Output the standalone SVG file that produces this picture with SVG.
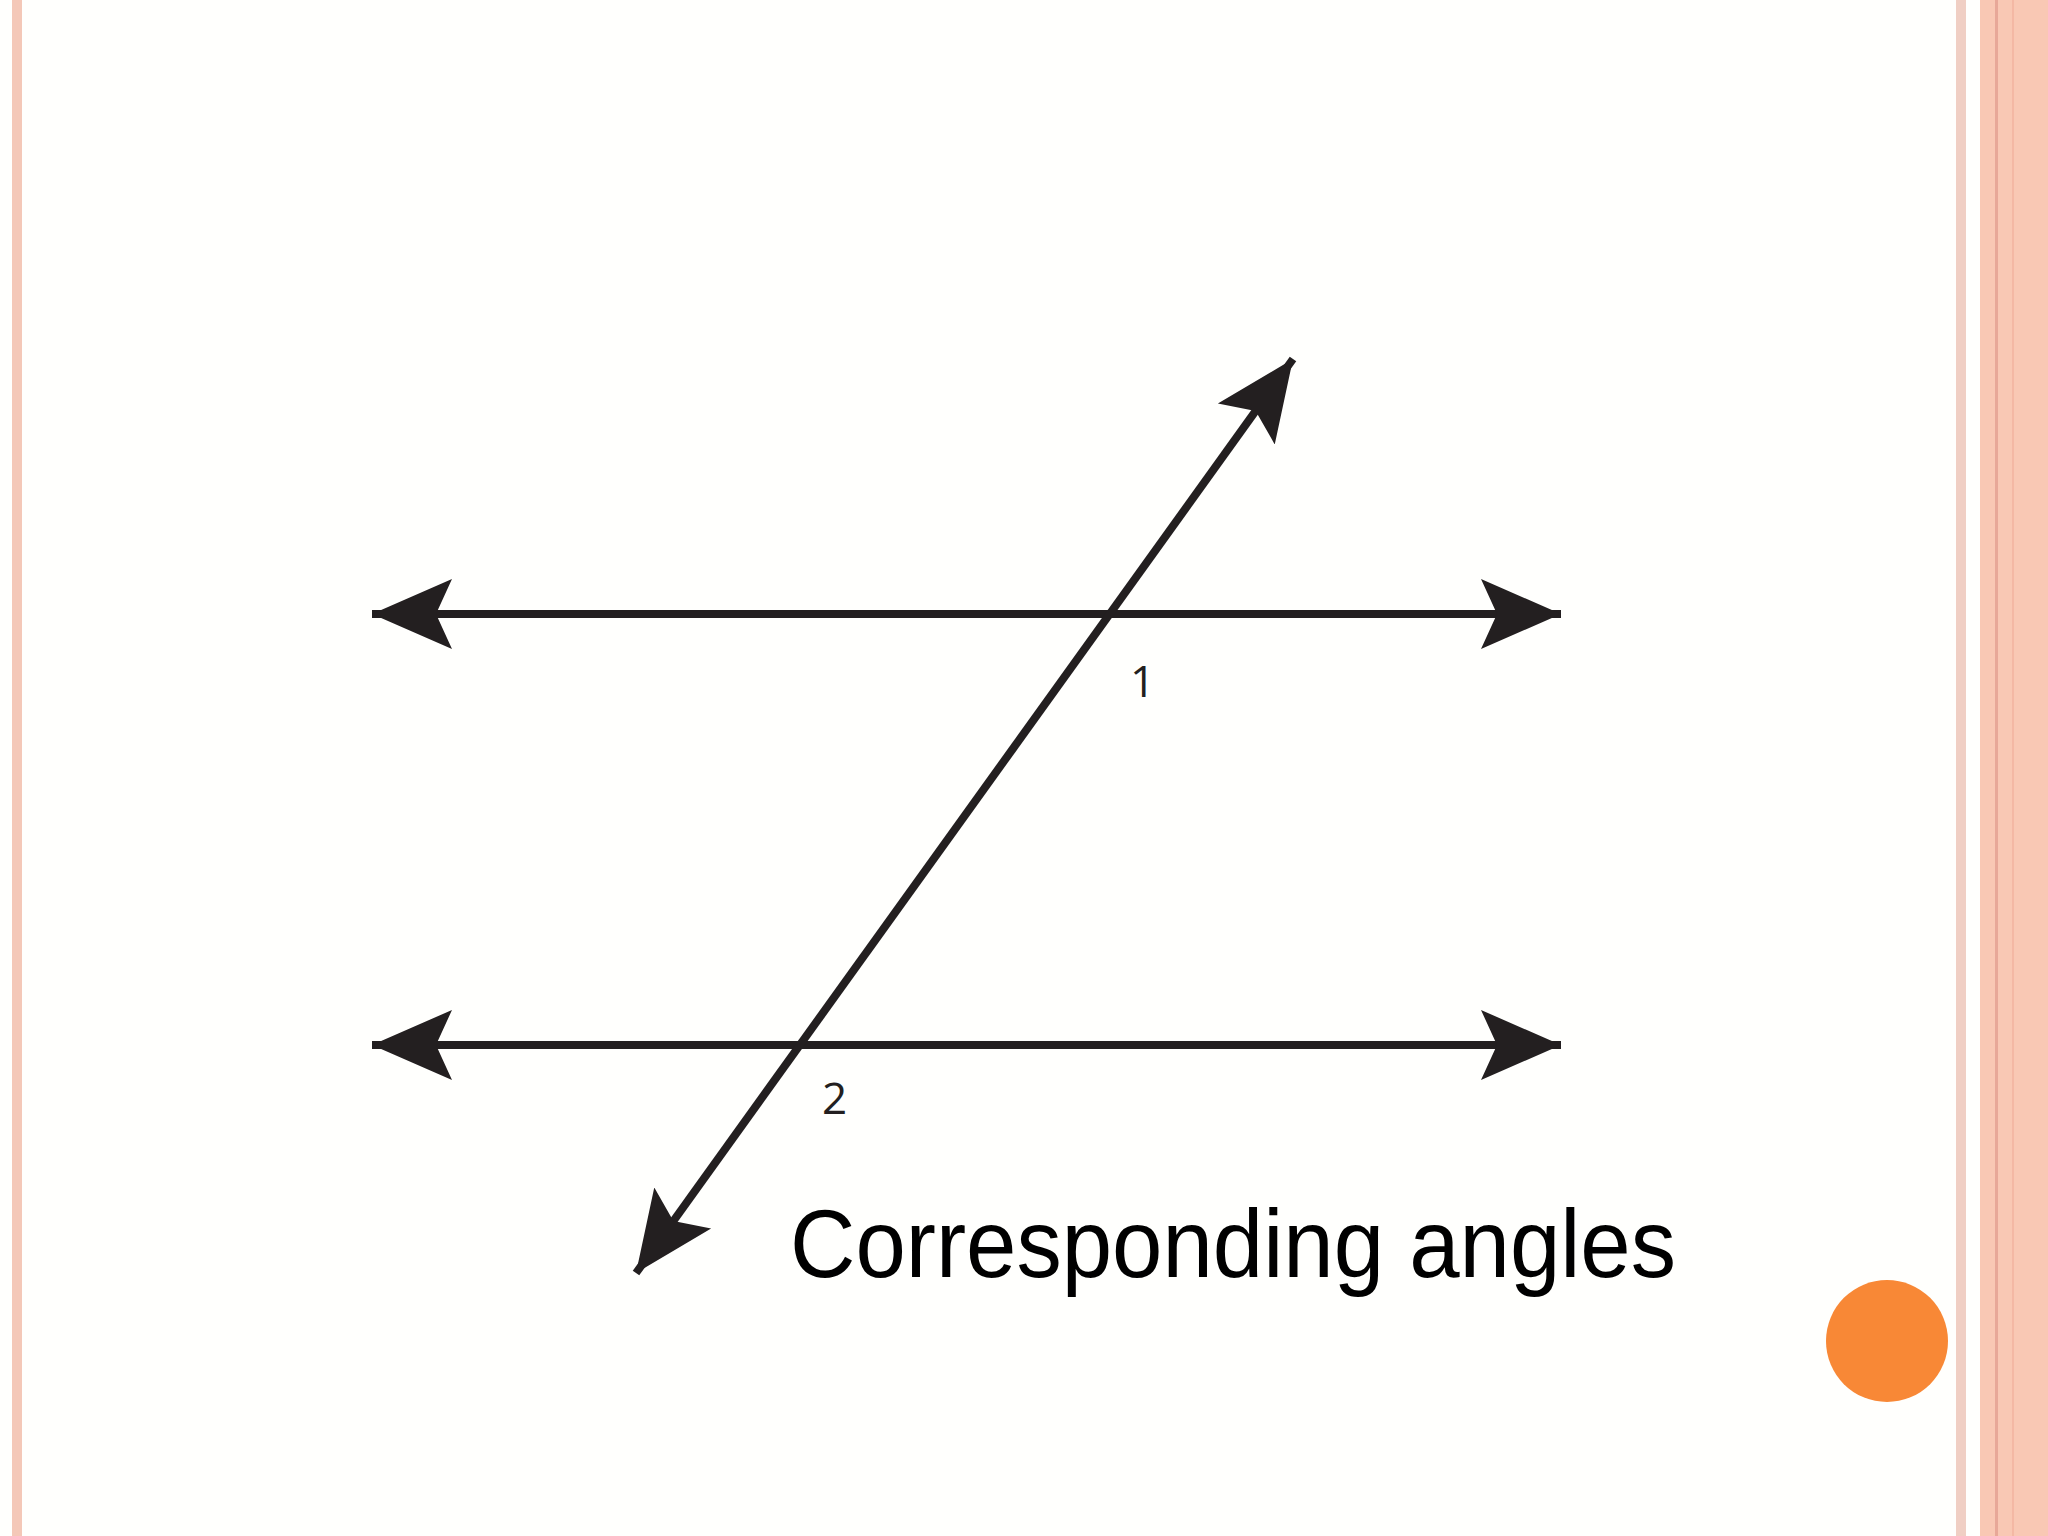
<svg xmlns="http://www.w3.org/2000/svg" width="2048" height="1536" viewBox="0 0 2048 1536">
<defs>
<marker id="ah" markerUnits="userSpaceOnUse" markerWidth="90" markerHeight="80" refX="80" refY="35" orient="auto-start-reverse" viewBox="0 0 90 70">
<path d="M0,0 L80,35 L0,70 L16,35 Z" fill="#231f20"/>
</marker>
<style>.ln{stroke:#231f20;stroke-width:8;fill:none}.lb{font-family:"Open Sans","DejaVu Sans",sans-serif;font-size:44px;fill:#231f20}</style>
</defs>
<rect width="2048" height="1536" fill="#fffffd"/>
<rect x="12" y="0" width="10" height="1536" fill="#f4c8b8"/>
<rect x="1956" y="0" width="10" height="1536" fill="#f0cfc4"/>
<rect x="1980" y="0" width="68" height="1536" fill="#f9c8b4"/>
<rect x="1995" y="0" width="3" height="1536" fill="#e8a898"/>
<rect x="2012" y="0" width="2" height="1536" fill="#f4b8a4"/>
<g id="connectors">
<line class="ln" x1="372" y1="614" x2="1561" y2="614" marker-start="url(#ah)" marker-end="url(#ah)"/>
<line class="ln" x1="372" y1="1045" x2="1561" y2="1045" marker-start="url(#ah)" marker-end="url(#ah)"/>
<line class="ln" x1="636" y1="1273" x2="1293" y2="359" marker-start="url(#ah)" marker-end="url(#ah)"/>
</g>
<g id="label1"><text class="lb" x="1130" y="697">1</text></g>
<g id="label2"><text class="lb" x="822" y="1114">2</text></g>
<g id="caption"><text x="790" y="1277" font-family="'Liberation Sans',Arial,sans-serif" font-size="96" textLength="886" lengthAdjust="spacingAndGlyphs" fill="#000">Corresponding angles</text></g>
<g id="dot"><circle cx="1887" cy="1341" r="61" fill="#f88836"/></g>
</svg>
